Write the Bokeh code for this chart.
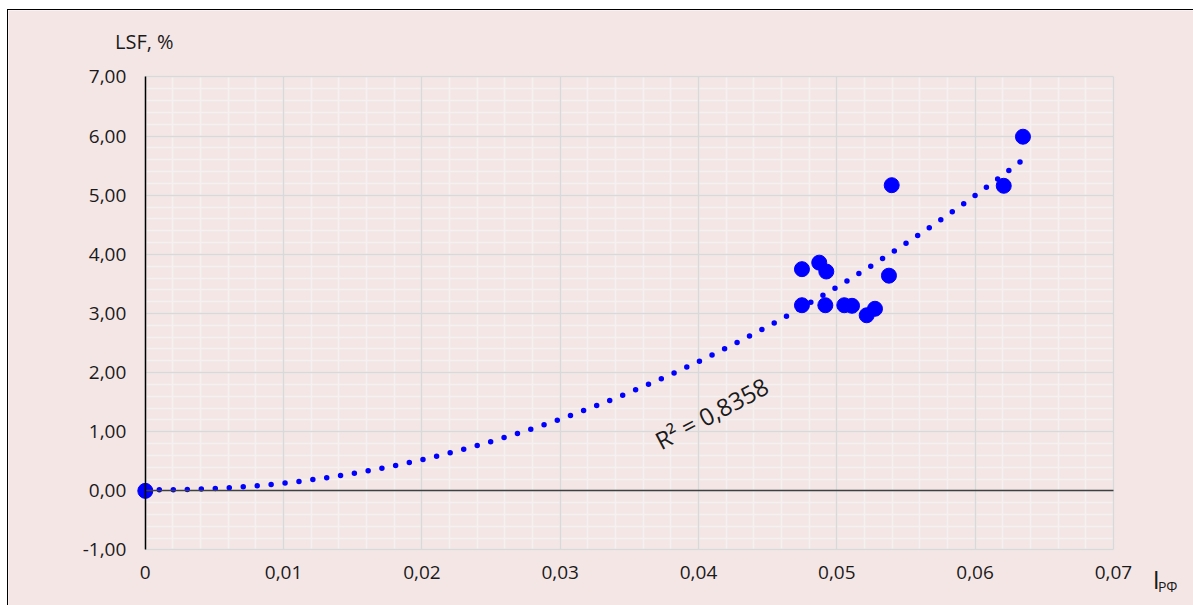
import numpy as np
from bokeh.plotting import figure
from bokeh.models import FixedTicker, Label, LinearAxis, Grid
from bokeh.embed import file_html
from bokeh.resources import INLINE

# data
i_rf = [0.0, 0.04748, 0.04748, 0.04873, 0.04924, 0.04917, 0.05054, 0.05110,
        0.05216, 0.05276, 0.05377, 0.05397, 0.06207, 0.06346]
lsf = [0.0, 3.75, 3.14, 3.86, 3.71, 3.14, 3.14, 3.13,
       2.97, 3.08, 3.64, 5.17, 5.16, 5.99]

x_ticks = [0.0, 0.01, 0.02, 0.03, 0.04, 0.05, 0.06, 0.07]
x_tick_labels = ["0", "0,01", "0,02", "0,03", "0,04", "0,05", "0,06", "0,07"]
y_ticks = [-1, 0, 1, 2, 3, 4, 5, 6, 7]
y_tick_labels = ["-1,00", "0,00", "1,00", "2,00", "3,00", "4,00", "5,00", "6,00", "7,00"]
r2_text = "R² = 0,8358"
y_title = "LSF, %"
x_title = "I"
x_title_sub = "РФ"

BG = "#F5E6E6"
FONT = "Open Sans"
TXT = "#1a1a1a"
XB = (0.0, 0.07)   # plot-area bounds
YB = (-1.0, 7.0)

p = figure(frame_width=1185, frame_height=595,
           min_border_left=0, min_border_right=0,
           min_border_top=0, min_border_bottom=0,
           x_range=(-0.009892, 0.075791), y_range=(-1.9387, 8.1247),
           x_axis_type=None, y_axis_type=None,
           output_backend="svg", toolbar_location=None,
           background_fill_color=BG, border_fill_color=BG)
p.outline_line_color = None
p.styles = {"margin-left": "7px", "margin-top": "9px",
            "border-left": "1.5px solid black", "border-top": "1.5px solid black"}

x_minor = list(np.round(np.arange(0, 0.0701, 0.002), 4))
y_minor = list(np.round(np.arange(-1, 7.01, 0.2), 2))
xt_minor = FixedTicker(ticks=x_ticks, minor_ticks=x_minor)
yt_minor = FixedTicker(ticks=y_ticks, minor_ticks=y_minor)
xt = FixedTicker(ticks=x_ticks)
yt = FixedTicker(ticks=y_ticks)

# minor grid lines first, major ones on top
for dim, tk, b, cb in ((0, xt_minor, XB, YB), (1, yt_minor, YB, XB)):
    p.add_layout(Grid(dimension=dim, ticker=tk, bounds=b, cross_bounds=cb,
                      grid_line_color=None,
                      minor_grid_line_color="#F4F1F1", minor_grid_line_width=1.5))
for dim, tk, b, cb in ((0, xt, XB, YB), (1, yt, YB, XB)):
    p.add_layout(Grid(dimension=dim, ticker=tk, bounds=b, cross_bounds=cb,
                      grid_line_color="#D9D9D9", grid_line_width=1.5))

common = dict(major_tick_line_color=None, minor_tick_line_color=None,
              major_tick_out=0, major_tick_in=0,
              major_label_text_font=FONT, major_label_text_font_size="19px",
              major_label_text_color=TXT)

xaxis = LinearAxis(fixed_location=YB[0], bounds=XB, ticker=xt,
                   axis_line_color=None, major_label_standoff=16, **common)
xaxis.major_label_overrides = dict(zip(x_ticks, x_tick_labels))
p.add_layout(xaxis, "below")

zero_axis = LinearAxis(fixed_location=0, bounds=XB, ticker=FixedTicker(ticks=[]),
                       axis_line_color="#404040", axis_line_width=1.5, **common)
p.add_layout(zero_axis, "below")

yaxis = LinearAxis(fixed_location=0, bounds=YB, ticker=yt,
                   axis_line_color="black", axis_line_width=1.5,
                   major_label_standoff=19, **common)
yaxis.major_label_overrides = dict(zip(y_ticks, y_tick_labels))
p.add_layout(yaxis, "left")

# polynomial (order 2) trendline from the data
coef = np.polyfit(i_rf, lsf, 2)
xs = np.linspace(min(i_rf), max(i_rf), 300)
ys = np.polyval(coef, xs)
p.line(xs, ys, line_color="#0000FF", line_width=5.5, line_dash="0 14", line_cap="round")

p.scatter(i_rf, lsf, size=15, color="#0000FF")

p.add_layout(Label(x=0.04094, y=1.317, text=r2_text, angle=28, angle_units="deg",
                   text_align="center", text_baseline="middle",
                   text_font=FONT, text_font_size="24px", text_color=TXT))
p.add_layout(Label(x=-0.00219, y=7.592, text=y_title, text_align="left",
                   text_baseline="middle", text_font=FONT, text_font_size="20px",
                   text_color=TXT))
p.add_layout(Label(x=0.07284, y=-1.490, text=x_title, text_align="left",
                   text_baseline="middle", text_font=FONT, text_font_size="25px",
                   text_color=TXT))
p.add_layout(Label(x=0.07322, y=-1.609, text=x_title_sub, text_align="left",
                   text_baseline="middle", text_font=FONT, text_font_size="14px",
                   text_color=TXT))

open("out.html", "w").write(file_html(p, INLINE))
